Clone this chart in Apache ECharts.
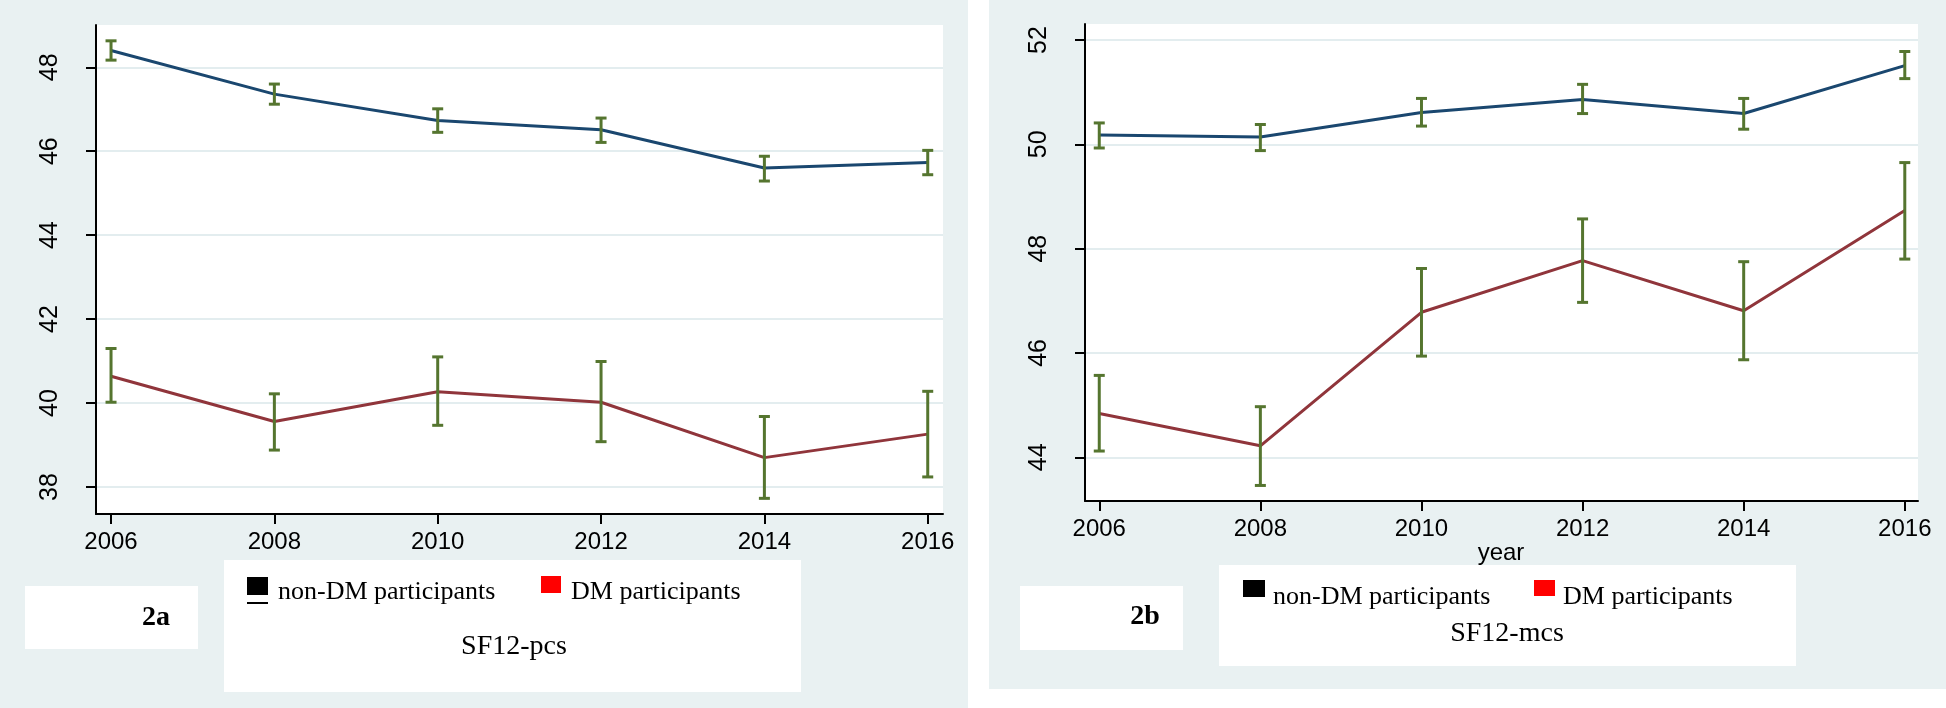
<!DOCTYPE html>
<html><head><meta charset="utf-8">
<script src="https://cdn.jsdelivr.net/npm/echarts@6/dist/echarts.min.js"></script>
<style>html,body{margin:0;padding:0;background:#fff}#c{width:1946px;height:708px}</style>
</head><body><div id="c"></div>
<script>
// ---- data ----
const years = [2006, 2008, 2010, 2012, 2014, 2016];
const yearTicks = [2006, 2008, 2010, 2012, 2014, 2016];
const pcsTicks = [38, 40, 42, 44, 46, 48];
const mcsTicks = [44, 46, 48, 50, 52];

const pcsNonDM   = [48.40, 47.36, 46.73, 46.51, 45.60, 45.73];
const pcsNonDMLo = [48.17, 47.12, 46.45, 46.21, 45.29, 45.44];
const pcsNonDMHi = [48.63, 47.60, 47.01, 46.79, 45.88, 46.02];
const pcsDM      = [40.64, 39.56, 40.27, 40.02, 38.70, 39.26];
const pcsDMLo    = [40.02, 38.88, 39.47, 39.08, 37.73, 38.24];
const pcsDMHi    = [41.30, 40.22, 41.10, 40.99, 39.68, 40.28];

const mcsNonDM   = [50.18, 50.14, 50.61, 50.86, 50.59, 51.51];
const mcsNonDMLo = [49.93, 49.88, 50.35, 50.59, 50.29, 51.26];
const mcsNonDMHi = [50.41, 50.38, 50.88, 51.15, 50.88, 51.78];
const mcsDM      = [44.84, 44.22, 46.78, 47.77, 46.81, 48.73];
const mcsDMLo    = [44.12, 43.46, 45.94, 46.97, 45.87, 47.80];
const mcsDMHi    = [45.57, 44.97, 47.62, 48.57, 47.75, 49.65];

const legendNames = ['non-DM participants', 'DM participants'];
const panelTitles = ['SF12-pcs', 'SF12-mcs'];
const panelTags = ['2a', '2b'];
const xTitle = 'year';

// ---- styling ----
const BLUE = '#1a476f', RED = '#90353b', GREEN = '#55752f';
const BG = '#e9f1f2', GRIDC = '#e3edef';
const SANS = '"Liberation Sans", Arial, sans-serif';
const SERIF = '"Liberation Serif", "Times New Roman", serif';

const pair = (xs, ys) => xs.map((x, i) => [x, ys[i]]);
const triple = (xs, lo, hi) => xs.map((x, i) => [x, lo[i], hi[i]]);

function errSeries(idx, data) {
  return {
    type: 'custom', xAxisIndex: idx, yAxisIndex: idx, z: 5, silent: true,
    data: data,
    renderItem: function (params, api) {
      const x = api.value(0);
      const lo = api.coord([x, api.value(1)]);
      const hi = api.coord([x, api.value(2)]);
      const w = 5.5;
      const st = { stroke: GREEN, lineWidth: 3, fill: null };
      return {
        type: 'group',
        children: [
          { type: 'line', shape: { x1: lo[0], y1: lo[1], x2: hi[0], y2: hi[1] }, style: st },
          { type: 'line', shape: { x1: lo[0] - w, y1: lo[1], x2: lo[0] + w, y2: lo[1] }, style: st },
          { type: 'line', shape: { x1: hi[0] - w, y1: hi[1], x2: hi[0] + w, y2: hi[1] }, style: st }
        ]
      };
    }
  };
}
function lineSeries(idx, name, data, color) {
  return {
    type: 'line', name: name, xAxisIndex: idx, yAxisIndex: idx, data: data,
    showSymbol: false, symbol: 'none', z: 3, silent: true,
    lineStyle: { color: color, width: 3 }
  };
}
function xAxisOpt(idx, min, max) {
  return {
    type: 'value', gridIndex: idx, min: min, max: max,
    axisLine: { show: true, lineStyle: { color: '#000', width: 2 } },
    axisTick: { show: true, length: 10, lineStyle: { color: '#000', width: 2 }, customValues: yearTicks },
    axisLabel: { customValues: yearTicks, formatter: v => String(Math.round(v)), fontSize: 24, color: '#000', fontFamily: SANS, margin: 16 },
    splitLine: { show: false }
  };
}
function yAxisOpt(idx, min, max, ticks) {
  return {
    type: 'value', gridIndex: idx, min: min, max: max,
    axisLine: { show: true, lineStyle: { color: '#000', width: 2 } },
    axisTick: { show: true, length: 10, lineStyle: { color: '#000', width: 2 }, customValues: ticks },
    axisLabel: { customValues: ticks, formatter: v => String(Math.round(v)), fontSize: 25, color: '#000', fontFamily: SANS, rotate: 90, margin: 33 },
    splitLine: { show: true, lineStyle: { color: GRIDC, width: 2 } }
  };
}

const graphics = [
  // panel backgrounds
  { type: 'rect', z: -10, shape: { x: 0, y: 0, width: 968, height: 708 }, style: { fill: BG } },
  { type: 'rect', z: -10, shape: { x: 989, y: 0, width: 957, height: 689 }, style: { fill: BG } },
  // left legend area
  { type: 'rect', z: 10, shape: { x: 224, y: 560, width: 577, height: 132 }, style: { fill: '#fff' } },
  { type: 'rect', z: 10, shape: { x: 25, y: 586, width: 173, height: 63 }, style: { fill: '#fff' } },
  { type: 'rect', z: 11, shape: { x: 247, y: 577, width: 21, height: 18 }, style: { fill: '#000' } },
  { type: 'rect', z: 11, shape: { x: 247, y: 602, width: 21, height: 2 }, style: { fill: '#000' } },
  { type: 'text', z: 11, x: 278, y: 592, style: { text: legendNames[0], font: '26px ' + SERIF, fill: '#000', verticalAlign: 'middle' } },
  { type: 'rect', z: 11, shape: { x: 541, y: 576, width: 20, height: 17 }, style: { fill: '#ff0000' } },
  { type: 'text', z: 11, x: 571, y: 592, style: { text: legendNames[1], font: '26px ' + SERIF, fill: '#000', verticalAlign: 'middle' } },
  { type: 'text', z: 11, x: 514, y: 647, style: { text: panelTitles[0], font: '28px ' + SERIF, fill: '#000', align: 'center', verticalAlign: 'middle' } },
  { type: 'text', z: 11, x: 156, y: 618, style: { text: panelTags[0], font: 'bold 28px ' + SERIF, fill: '#000', align: 'center', verticalAlign: 'middle' } },
  // right legend area
  { type: 'text', z: 11, x: 1501, y: 553, style: { text: xTitle, font: '24px ' + SANS, fill: '#000', align: 'center', verticalAlign: 'middle' } },
  { type: 'rect', z: 10, shape: { x: 1219, y: 565, width: 577, height: 101 }, style: { fill: '#fff' } },
  { type: 'rect', z: 10, shape: { x: 1020, y: 586, width: 163, height: 64 }, style: { fill: '#fff' } },
  { type: 'rect', z: 11, shape: { x: 1243, y: 580, width: 22, height: 17 }, style: { fill: '#000' } },
  { type: 'text', z: 11, x: 1273, y: 597, style: { text: legendNames[0], font: '26px ' + SERIF, fill: '#000', verticalAlign: 'middle' } },
  { type: 'rect', z: 11, shape: { x: 1534, y: 580, width: 21, height: 16 }, style: { fill: '#ff0000' } },
  { type: 'text', z: 11, x: 1563, y: 597, style: { text: legendNames[1], font: '26px ' + SERIF, fill: '#000', verticalAlign: 'middle' } },
  { type: 'text', z: 11, x: 1507, y: 634, style: { text: panelTitles[1], font: '28px ' + SERIF, fill: '#000', align: 'center', verticalAlign: 'middle' } },
  { type: 'text', z: 11, x: 1145, y: 617, style: { text: panelTags[1], font: 'bold 28px ' + SERIF, fill: '#000', align: 'center', verticalAlign: 'middle' } }
];

const option = {
  backgroundColor: '#fff',
  animation: false,
  graphic: { elements: graphics },
  grid: [
    { left: 96, top: 25, width: 847, height: 489, show: true, backgroundColor: '#fff', borderWidth: 0 },
    { left: 1085, top: 24, width: 833, height: 477, show: true, backgroundColor: '#fff', borderWidth: 0 }
  ],
  xAxis: [ xAxisOpt(0, 2005.816, 2016.187), xAxisOpt(1, 2005.823, 2016.164) ],
  yAxis: [ yAxisOpt(0, 37.357, 49.007, pcsTicks), yAxisOpt(1, 43.162, 52.307, mcsTicks) ],
  series: [
    lineSeries(0, legendNames[0], pair(years, pcsNonDM), BLUE),
    lineSeries(0, legendNames[1], pair(years, pcsDM), RED),
    errSeries(0, triple(years, pcsNonDMLo, pcsNonDMHi)),
    errSeries(0, triple(years, pcsDMLo, pcsDMHi)),
    lineSeries(1, legendNames[0], pair(years, mcsNonDM), BLUE),
    lineSeries(1, legendNames[1], pair(years, mcsDM), RED),
    errSeries(1, triple(years, mcsNonDMLo, mcsNonDMHi)),
    errSeries(1, triple(years, mcsDMLo, mcsDMHi))
  ]
};
const chart = echarts.init(document.getElementById('c'));
chart.setOption(option);
</script>
</body></html>
